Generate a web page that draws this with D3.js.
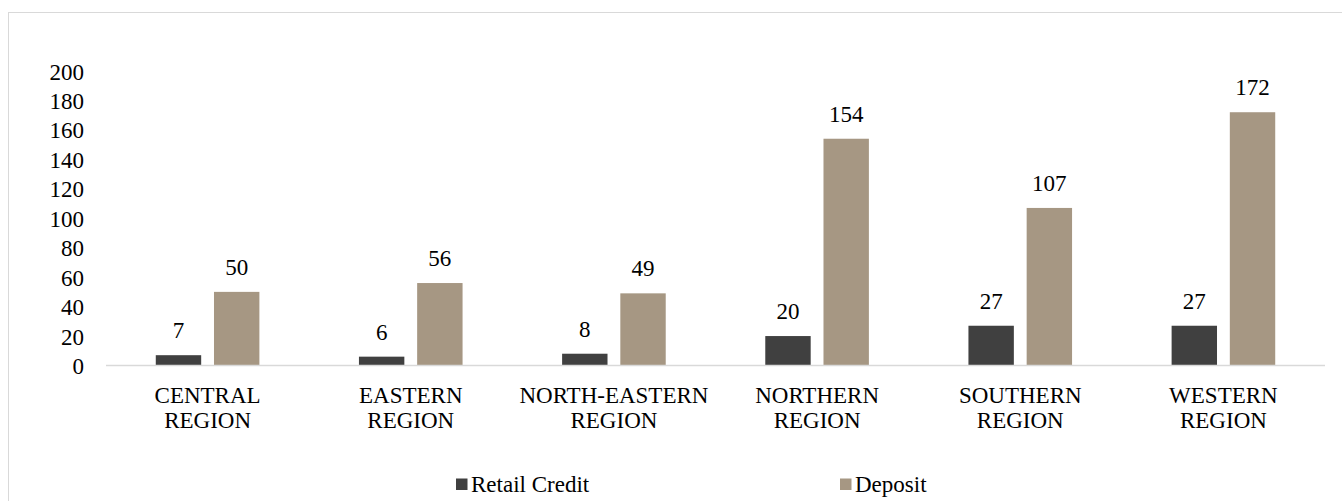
<!DOCTYPE html>
<html>
<head>
<meta charset="utf-8">
<script src="https://cdn.jsdelivr.net/npm/d3@7"></script>
<style>
  html, body { margin: 0; padding: 0; background: #fff; }
  svg { display: block; }
</style>
</head>
<body>
<svg id="chart" width="1342" height="501"></svg>
<script>
// Regions (two-line labels) and the two series per region
const categories = [
  ["CENTRAL", "REGION"],
  ["EASTERN", "REGION"],
  ["NORTH-EASTERN", "REGION"],
  ["NORTHERN", "REGION"],
  ["SOUTHERN", "REGION"],
  ["WESTERN", "REGION"]
];
const seriesNames = ["Retail Credit", "Deposit"];
const retailCredit = [7, 6, 8, 20, 27, 27];
const deposit = [50, 56, 49, 154, 107, 172];
const yTicks = [0, 20, 40, 60, 80, 100, 120, 140, 160, 180, 200];
const colors = ["#404040", "#a69783"];

const FONT = "'Liberation Serif', 'Times New Roman', Tinos, 'DejaVu Serif', serif";
const fontSize = 23;

const svg = d3.select("#chart")
  .style("font-family", FONT);
const W = 1342, H = 501;

// Outer frame
svg.append("rect")
  .attr("x", 8.5).attr("y", 12.5)
  .attr("width", W + 10).attr("height", H + 10)
  .attr("fill", "none").attr("stroke", "#d9d9d9").attr("stroke-width", 1);

const plot = { left: 106, right: 1325, top: 71, bottom: 365.5 };

const keys = categories.map(c => c.join(" "));
const x0 = d3.scaleBand().domain(keys).range([plot.left, plot.right])
  .paddingInner(0.49).paddingOuter(0.245);
const x1 = d3.scaleBand().domain(seriesNames).range([0, x0.bandwidth()])
  .paddingInner(0.22).paddingOuter(0);
const y = d3.scaleLinear().domain([0, 200]).range([plot.bottom, plot.top]);

function styleText(sel) {
  return sel.style("font-family", FONT).style("font-size", fontSize + "px").style("fill", "#000");
}

// Y axis labels (no axis line, no gridlines)
const yAxis = d3.axisLeft(y).tickValues(yTicks).tickSize(0).tickPadding(0);
const yg = svg.append("g").attr("transform", `translate(${84},0)`).call(yAxis);
yg.attr("font-family", null).attr("font-size", null);
yg.select(".domain").remove();
styleText(yg.selectAll("text")).attr("dy", "0.35em");

// Bars
const rows = keys.map((k, i) => ({ key: k, values: [retailCredit[i], deposit[i]] }));
const groups = svg.append("g").selectAll("g").data(rows).join("g")
  .attr("transform", d => `translate(${x0(d.key)},0)`);

groups.selectAll("rect")
  .data(d => d.values.map((v, j) => ({ name: seriesNames[j], value: v, j })))
  .join("rect")
  .attr("x", d => x1(d.name))
  .attr("y", d => y(d.value))
  .attr("width", x1.bandwidth())
  .attr("height", d => y(0) - y(d.value))
  .attr("fill", d => colors[d.j]);

styleText(groups.selectAll("text.val")
  .data(d => d.values.map((v, j) => ({ name: seriesNames[j], value: v })))
  .join("text")
  .attr("class", "val")
  .attr("x", d => x1(d.name) + x1.bandwidth() / 2)
  .attr("y", d => y(d.value) - 17)
  .attr("text-anchor", "middle")
  .text(d => d.value));

// Baseline
svg.append("line")
  .attr("x1", plot.left).attr("x2", plot.right)
  .attr("y1", y(0)).attr("y2", y(0))
  .attr("stroke", "#d9d9d9").attr("stroke-width", 1.5);

// Category labels
const xAxisG = svg.append("g");
categories.forEach((lines, i) => {
  const cx = x0(keys[i]) + x0.bandwidth() / 2;
  const t = styleText(xAxisG.append("text").attr("text-anchor", "middle"));
  lines.forEach((ln, k) => {
    t.append("tspan").attr("x", cx).attr("y", 402.5 + k * 25.5).text(ln);
  });
});

// Legend
const legendX = [456, 840];
const legend = svg.append("g");
seriesNames.forEach((name, i) => {
  legend.append("rect")
    .attr("x", legendX[i]).attr("y", 478.5)
    .attr("width", 11.5).attr("height", 11.5)
    .attr("fill", colors[i]);
  styleText(legend.append("text")
    .attr("x", legendX[i] + 15).attr("y", 492)
    .text(name));
});
</script>
</body>
</html>
